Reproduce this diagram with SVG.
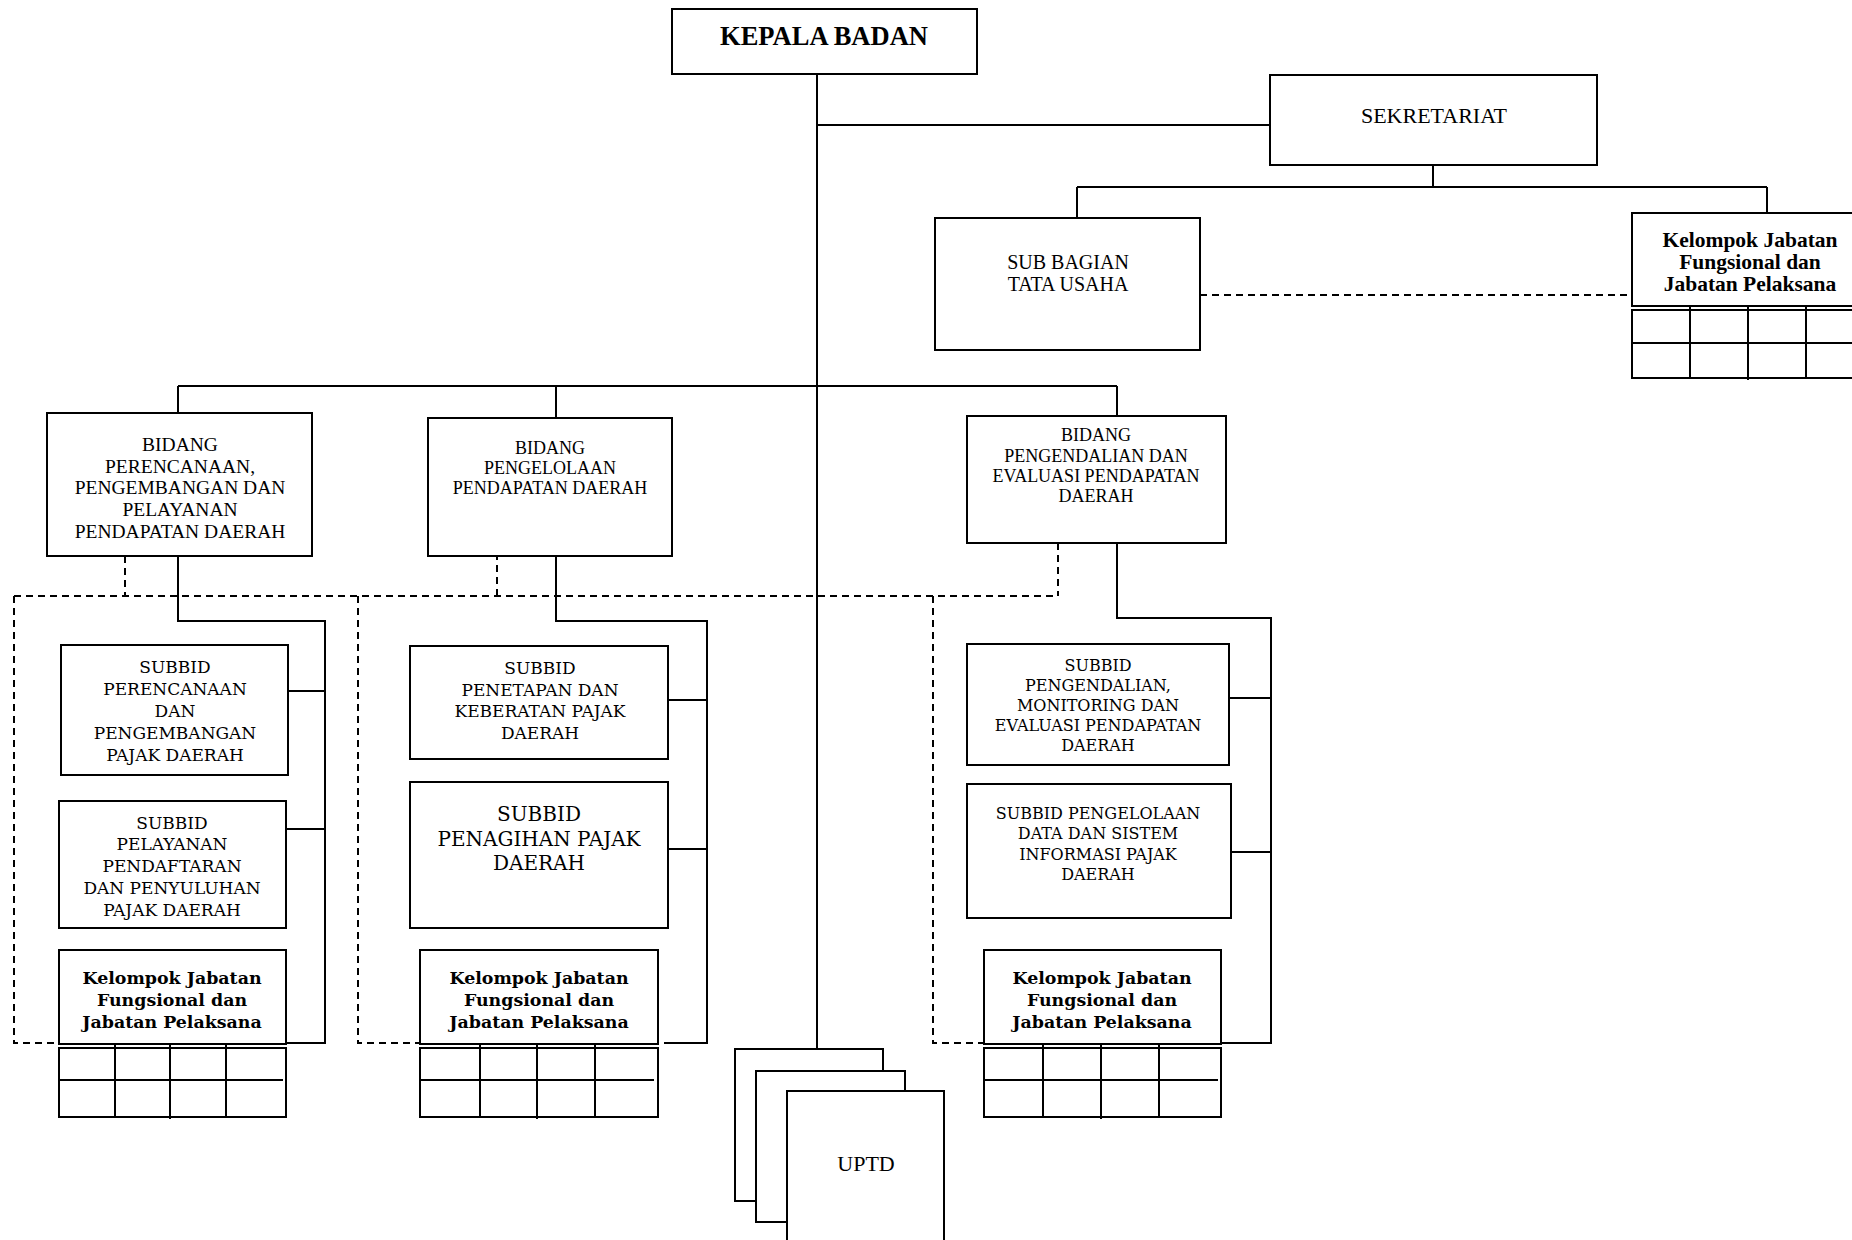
<svg xmlns="http://www.w3.org/2000/svg" width="1852" height="1240" viewBox="0 0 1852 1240">
<style>
.box{fill:#fff;stroke:#000;stroke-width:2}
.ln{fill:none;stroke:#000;stroke-width:2}
.dash{fill:none;stroke:#000;stroke-width:2;stroke-dasharray:7 5}
.tn{font-family:"Liberation Serif",serif;fill:#000;text-anchor:middle;dominant-baseline:central}
.tw{font-family:"DejaVu Serif",serif;fill:#000;text-anchor:middle;dominant-baseline:central}
.kb{font-family:"DejaVu Serif",serif;font-weight:bold;font-size:17.4px;fill:#000;text-anchor:middle;dominant-baseline:central}
</style>
<rect width="1852" height="1240" fill="#fff"/>
<g id="connectors">
  <path class="ln" d="M817 74 V1049 M817 125 H1270"/>
  <path class="ln" d="M1433 165 V187 M1077 187 H1767 M1077 187 V218 M1767 187 V213"/>
  <path class="dash" d="M1200 295 H1632"/>
  <path class="ln" d="M178 386 H1117 M178 386 V413 M556 386 V418 M1117 386 V416"/>
  <path class="dash" d="M125 556 V596 M497 553 V596 M1058 543 V596 M14 596 H1058 M14 596 V1043 H59 M358 596 V1043 H420 M933 596 V1043 H984"/>
  <path class="ln" d="M178 556 V621 H325 V1043 H286 M288 691 H325 M286 829 H325"/>
  <path class="ln" d="M556 556 V621 H707 V1043 H664 M668 700 H707 M668 849 H707"/>
  <path class="ln" d="M1117 543 V618 H1271 V1043 H1221 M1229 698 H1271 M1231 852 H1271"/>
</g>
<g id="kepala-badan">
  <rect class="box" x="672" y="9" width="305" height="65"/>
  <text class="tn" x="824" y="36" font-size="26.5" font-weight="bold">KEPALA BADAN</text>
</g>
<g id="sekretariat">
  <rect class="box" x="1270" y="75" width="327" height="90"/>
  <text class="tn" x="1434" y="115" font-size="22">SEKRETARIAT</text>
</g>
<g id="sub-bagian-tata-usaha">
  <rect class="box" x="935" y="218" width="265" height="132"/>
  <text class="tn" x="1068" y="262" font-size="20">SUB BAGIAN</text>
  <text class="tn" x="1068" y="284" font-size="20">TATA USAHA</text>
</g>
<g id="kelompok-sekretariat">
  <rect class="box" x="1632" y="213" width="230" height="93"/>
  <text class="tn" x="1750" y="240" font-size="21.5" font-weight="bold">Kelompok Jabatan</text>
  <text class="tn" x="1750" y="262" font-size="21.5" font-weight="bold">Fungsional dan</text>
  <text class="tn" x="1750" y="284" font-size="21.5" font-weight="bold">Jabatan Pelaksana</text>
  <rect class="box" x="1632" y="310" width="230" height="68"/>
  <path class="ln" d="M1632 343 H1852 M1690 306 V378 M1748 306 V380 M1806 306 V378"/>
</g>
<g id="bidang-perencanaan">
  <rect class="box" x="47" y="413" width="265" height="143"/>
  <text class="tn" x="180" y="444" font-size="19.5">BIDANG</text>
  <text class="tn" x="180" y="466" font-size="19.5">PERENCANAAN,</text>
  <text class="tn" x="180" y="487" font-size="19.5">PENGEMBANGAN DAN</text>
  <text class="tn" x="180" y="509" font-size="19.5">PELAYANAN</text>
  <text class="tn" x="180" y="531" font-size="19.5">PENDAPATAN DAERAH</text>
</g>
<g id="bidang-pengelolaan">
  <rect class="box" x="428" y="418" width="244" height="138"/>
  <text class="tn" x="550" y="448" font-size="18">BIDANG</text>
  <text class="tn" x="550" y="468" font-size="18">PENGELOLAAN</text>
  <text class="tn" x="550" y="488" font-size="18">PENDAPATAN DAERAH</text>
</g>
<g id="bidang-pengendalian">
  <rect class="box" x="967" y="416" width="259" height="127"/>
  <text class="tn" x="1096" y="435" font-size="18">BIDANG</text>
  <text class="tn" x="1096" y="456" font-size="18">PENGENDALIAN DAN</text>
  <text class="tn" x="1096" y="476" font-size="18">EVALUASI PENDAPATAN</text>
  <text class="tn" x="1096" y="496" font-size="18">DAERAH</text>
</g>
<g id="subbid-perencanaan">
  <rect class="box" x="61" y="645" width="227" height="130"/>
  <text class="tw" x="175" y="667" font-size="17">SUBBID</text>
  <text class="tw" x="175" y="689" font-size="17">PERENCANAAN</text>
  <text class="tw" x="175" y="711" font-size="17">DAN</text>
  <text class="tw" x="175" y="733" font-size="17">PENGEMBANGAN</text>
  <text class="tw" x="175" y="755" font-size="17">PAJAK DAERAH</text>
</g>
<g id="subbid-pelayanan">
  <rect class="box" x="59" y="801" width="227" height="127"/>
  <text class="tw" x="172" y="823" font-size="17">SUBBID</text>
  <text class="tw" x="172" y="844" font-size="17">PELAYANAN</text>
  <text class="tw" x="172" y="866" font-size="17">PENDAFTARAN</text>
  <text class="tw" x="172" y="888" font-size="17">DAN PENYULUHAN</text>
  <text class="tw" x="172" y="910" font-size="17">PAJAK DAERAH</text>
</g>
<g id="kelompok-1">
  <rect class="box" x="59" y="950" width="227" height="94"/>
  <text class="kb" x="172" y="978">Kelompok Jabatan</text>
  <text class="kb" x="172" y="1000">Fungsional dan</text>
  <text class="kb" x="172" y="1022">Jabatan Pelaksana</text>
  <rect class="box" x="59" y="1048" width="227" height="69"/>
  <path class="ln" d="M59 1080 H283 M115 1044 V1117 M170 1044 V1119 M226 1044 V1117"/>
</g>
<g id="subbid-penetapan">
  <rect class="box" x="410" y="646" width="258" height="113"/>
  <text class="tw" x="540" y="668" font-size="17">SUBBID</text>
  <text class="tw" x="540" y="690" font-size="17">PENETAPAN DAN</text>
  <text class="tw" x="540" y="711" font-size="17">KEBERATAN PAJAK</text>
  <text class="tw" x="540" y="733" font-size="17">DAERAH</text>
</g>
<g id="subbid-penagihan">
  <rect class="box" x="410" y="782" width="258" height="146"/>
  <text class="tw" x="539" y="814" font-size="20">SUBBID</text>
  <text class="tw" x="539" y="839" font-size="20">PENAGIHAN PAJAK</text>
  <text class="tw" x="539" y="863" font-size="20">DAERAH</text>
</g>
<g id="kelompok-2">
  <rect class="box" x="420" y="950" width="238" height="94"/>
  <text class="kb" x="539" y="978">Kelompok Jabatan</text>
  <text class="kb" x="539" y="1000">Fungsional dan</text>
  <text class="kb" x="539" y="1022">Jabatan Pelaksana</text>
  <rect class="box" x="420" y="1048" width="238" height="69"/>
  <path class="ln" d="M420 1080 H654 M480 1044 V1117 M537 1044 V1119 M595 1044 V1117"/>
</g>
<g id="subbid-pengendalian">
  <rect class="box" x="967" y="644" width="262" height="121"/>
  <text class="tw" x="1098" y="665" font-size="16">SUBBID</text>
  <text class="tw" x="1098" y="685" font-size="16">PENGENDALIAN,</text>
  <text class="tw" x="1098" y="705" font-size="16">MONITORING DAN</text>
  <text class="tw" x="1098" y="725" font-size="16">EVALUASI PENDAPATAN</text>
  <text class="tw" x="1098" y="745" font-size="16">DAERAH</text>
</g>
<g id="subbid-pengelolaan-data">
  <rect class="box" x="967" y="784" width="264" height="134"/>
  <text class="tw" x="1098" y="813" font-size="16">SUBBID PENGELOLAAN</text>
  <text class="tw" x="1098" y="833" font-size="16">DATA DAN SISTEM</text>
  <text class="tw" x="1098" y="854" font-size="16">INFORMASI PAJAK</text>
  <text class="tw" x="1098" y="874" font-size="16">DAERAH</text>
</g>
<g id="kelompok-3">
  <rect class="box" x="984" y="950" width="237" height="94"/>
  <text class="kb" x="1102" y="978">Kelompok Jabatan</text>
  <text class="kb" x="1102" y="1000">Fungsional dan</text>
  <text class="kb" x="1102" y="1022">Jabatan Pelaksana</text>
  <rect class="box" x="984" y="1048" width="237" height="69"/>
  <path class="ln" d="M984 1080 H1218 M1043 1044 V1117 M1101 1044 V1119 M1159 1044 V1117"/>
</g>
<g id="uptd">
  <rect class="box" x="735" y="1049" width="148" height="152"/>
  <rect class="box" x="756" y="1071" width="149" height="151"/>
  <rect class="box" x="787" y="1091" width="157" height="160"/>
  <text class="tn" x="866" y="1163" font-size="22">UPTD</text>
</g>
</svg>
